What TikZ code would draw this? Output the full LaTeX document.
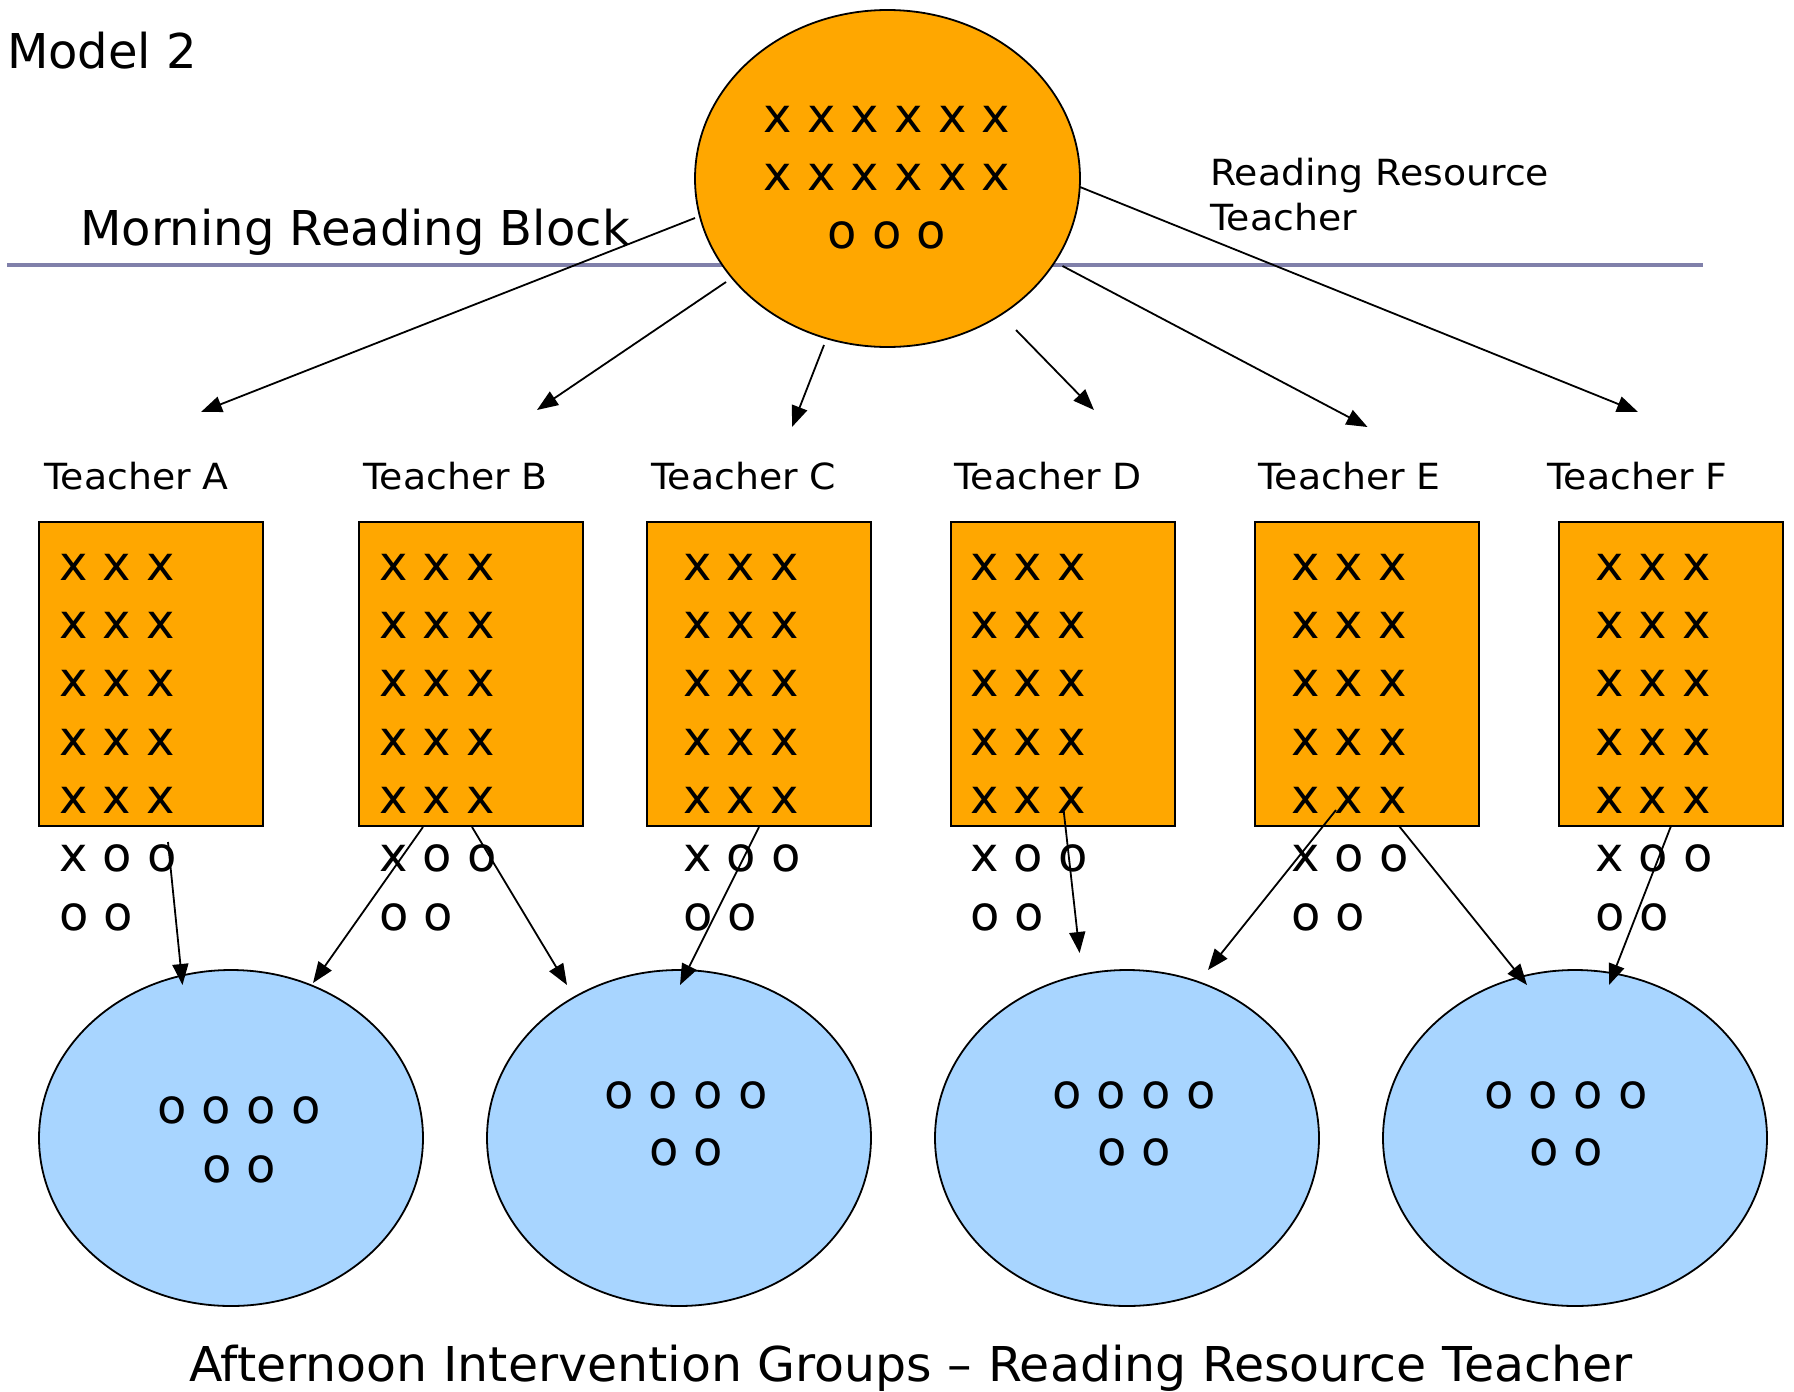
\documentclass[tikz,border=0pt]{standalone}
\usepackage{fontspec}
\setmainfont{DejaVu Sans}
\newfontfamily\midfont[FakeStretch=1.05]{DejaVu Sans}
\newfontfamily\widefont[FakeStretch=1.02]{DejaVu Sans}
\usetikzlibrary{shapes.geometric,arrows.meta}
\definecolor{orangefill}{RGB}{255,167,0}
\definecolor{bluefill}{RGB}{168,213,255}
\definecolor{rulecol}{RGB}{128,128,170}
\begin{document}
\begin{tikzpicture}[x=1pt,y=-1pt,
  big/.style={font=\fontsize{48}{58}\selectfont, inner sep=0pt},
  mid/.style={font=\midfont\fontsize{36}{45}\selectfont, inner sep=0pt},
  arr/.style={line width=1.8pt, -{Triangle[length=21pt,width=16pt]}},
  topell/.style={ellipse, draw, line width=1.8pt, fill=orangefill, minimum width=385pt, minimum height=337pt, inner sep=0pt},
  grpell/.style={ellipse, draw, line width=1.8pt, fill=bluefill, minimum width=384pt, minimum height=336pt, inner sep=0pt},
  tbox/.style={rectangle, draw, line width=1.6pt, fill=orangefill, minimum width=224pt, minimum height=304pt, inner sep=0pt}
]
\useasboundingbox (0,0) rectangle (1794,1392);

% horizontal rule
\coordinate (hl1) at (7,265);
\coordinate (hl2) at (1703,265);
\draw[rulecol, line width=4pt] (hl1) -- (hl2);

% top ellipse
\node[topell] (top) at (887.5,178.5) {};
\node[big, anchor=base] (top1) at (887,132) {x x x x x x};
\node[big, anchor=base] (top2) at (887,190) {x x x x x x};
\node[big, anchor=base] (top3) at (887,248) {o o o};

% labels
\node[big, anchor=base west] (model) at (7,68) {Model 2};
\node[big, anchor=base west] (morning) at (80,245) {Morning Reading Block};
\node[mid, anchor=base west] (rrt1) at (1210,185) {Reading Resource};
\node[mid, anchor=base west] (rrt2) at (1210,230) {Teacher};
\node[big, anchor=base west, font=\widefont\fontsize{48}{58}\selectfont] (bottom) at (189,1381) {Afternoon Intervention Groups – Reading Resource Teacher};

% teacher boxes
\foreach \n/\lx/\bx/\tx in {A/44/151/59, B/363/471/379, C/651/759/683, D/954/1063/970, E/1258/1367/1291, F/1547/1671/1595}{
  \node[mid, anchor=base west] (lab\n) at (\lx,489) {Teacher \n};
  \node[tbox] (box\n) at (\bx,674) {};
  \foreach \r/\y in {1/580, 2/638.3, 3/696.7, 4/755, 5/813.3}{
    \node[big, anchor=base west] (row\n\r) at (\tx,\y) {x x x};
  }
  \node[big, anchor=base west] (row\n6) at (\tx,871.7) {x o o};
  \node[big, anchor=base west] (row\n7) at (\tx,930) {o o};
}

% group ellipses
\node[grpell] (g1) at (231,1138) {};
\node[grpell] (g2) at (679,1138) {};
\node[grpell] (g3) at (1127,1138) {};
\node[grpell] (g4) at (1575,1138) {};
\node[big, anchor=base] (g1a) at (239,1123) {o o o o};
\node[big, anchor=base] (g1b) at (239,1182) {o o};
\node[big, anchor=base] (g2a) at (686,1108) {o o o o};
\node[big, anchor=base] (g2b) at (686,1165) {o o};
\node[big, anchor=base] (g3a) at (1134,1108) {o o o o};
\node[big, anchor=base] (g3b) at (1134,1165) {o o};
\node[big, anchor=base] (g4a) at (1566,1108) {o o o o};
\node[big, anchor=base] (g4b) at (1566,1165) {o o};

% arrows from top ellipse
\coordinate (sA) at (695,218);    \coordinate (eA) at (201,412);
\coordinate (sB) at (726,282);    \coordinate (eB) at (537,410);
\coordinate (sC) at (824,345);    \coordinate (eC) at (792,427);
\coordinate (sD) at (1016,330);   \coordinate (eD) at (1094,410);
\coordinate (sE) at (1062.5,266); \coordinate (eE) at (1367.5,427);
\coordinate (sF) at (1080,187);   \coordinate (eF) at (1638,412);
\foreach \n in {A,B,C,D,E,F}{ \draw[arr] (s\n) -- (e\n); }

% arrows to groups
\coordinate (a1s) at (168,842);    \coordinate (a1e) at (182.5,985);
\coordinate (b1s) at (423,827);    \coordinate (b1e) at (313,983);
\coordinate (b2s) at (472,827);    \coordinate (b2e) at (567,985);
\coordinate (c2s) at (759,827);    \coordinate (c2e) at (680,985);
\coordinate (d3s) at (1063.6,810); \coordinate (d3e) at (1079.6,953);
\coordinate (e3s) at (1336,810);   \coordinate (e3e) at (1208,970);
\coordinate (e4s) at (1399,826);   \coordinate (e4e) at (1527,985);
\coordinate (f4s) at (1671,826);   \coordinate (f4e) at (1609,985);
\foreach \k in {a1,b1,b2,c2,d3,e3,e4,f4}{ \draw[arr] (\k s) -- (\k e); }
\end{tikzpicture}
\end{document}
